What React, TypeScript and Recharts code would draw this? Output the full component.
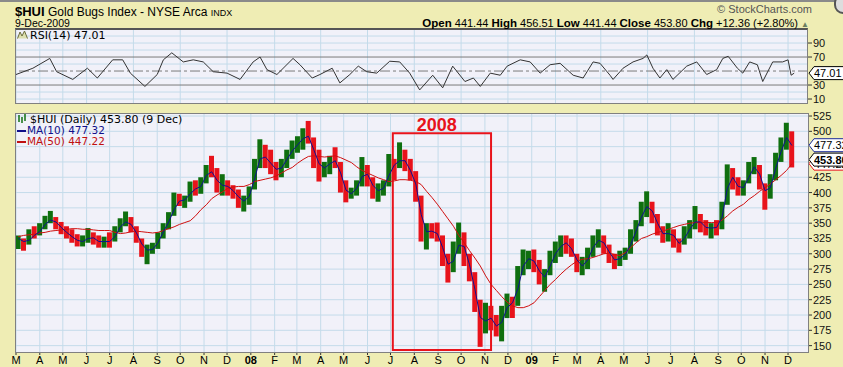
import React from 'react'
import {
  ComposedChart,
  LineChart,
  Bar,
  Line,
  Cell,
  XAxis,
  YAxis,
  CartesianGrid,
  ReferenceArea,
  ReferenceLine,
} from 'recharts'

// time axis: days since 1 Mar 2007, weekly bars sit at day 3 + 7*i
const START = Date.UTC(2007, 2, 1)
const DAY = 86400000
const X_DOMAIN: [number, number] = [0, 1032]

const monthLabels = [
  'M', 'A', 'M', 'J', 'J', 'A', 'S', 'O', 'N', 'D',
  '08', 'F', 'M', 'A', 'M', 'J', 'J', 'A', 'S', 'O', 'N', 'D',
  '09', 'F', 'M', 'A', 'M', 'J', 'J', 'A', 'S', 'O', 'N', 'D',
]
const monthDays = monthLabels.map((_, m) => Math.round((Date.UTC(2007, 2 + m, 1) - START) / DAY))

const weekHigh = [
  330, 325, 340, 345, 350, 362, 370, 360, 352, 345,
  340, 332, 330, 342, 335, 330, 328, 335, 345, 358,
  369, 360, 345, 325, 315, 318, 335, 350, 368, 400,
  398, 395, 418, 420, 425, 445, 460, 440, 430, 420,
  412, 405, 395, 410, 455, 487, 478, 470, 450, 455,
  470, 485, 492, 505, 517, 490, 470, 450, 460, 474,
  450, 420, 408, 420, 458, 445, 425, 415, 420, 463,
  455, 482, 470, 455, 435, 395, 350, 350, 351, 330,
  300, 320, 351, 335, 300, 270, 225, 220, 215, 200,
  215, 235, 230, 280, 307, 305, 307, 290, 275, 305,
  320, 330, 330, 325, 300, 295, 310, 330, 340, 330,
  315, 300, 305, 310, 340, 355, 385, 402, 385, 365,
  345, 350, 340, 325, 345, 355, 378, 365, 355, 350,
  355, 385, 446, 440, 425, 420, 450, 458, 445, 415,
  430, 465, 490, 514, 500,
]
const weekLow = [
  308, 305, 315, 325, 330, 340, 350, 340, 332, 325,
  318, 312, 312, 318, 315, 310, 310, 310, 320, 335,
  345, 335, 318, 295, 283, 300, 308, 325, 340, 362,
  378, 375, 385, 395, 398, 415, 425, 400, 395, 395,
  390, 375, 369, 380, 405, 440, 440, 430, 420, 425,
  440, 455, 465, 470, 480, 440, 418, 425, 430, 440,
  400, 384, 390, 395, 410, 410, 390, 385, 395, 410,
  420, 440, 435, 420, 385, 320, 307, 325, 320, 280,
  253, 270, 300, 280, 255, 205, 148, 170, 175, 165,
  157, 195, 195, 215, 265, 275, 270, 250, 238, 265,
  285, 295, 300, 295, 270, 265, 275, 295, 310, 300,
  285, 275, 280, 290, 300, 320, 345, 360, 350, 330,
  318, 320, 310, 302, 315, 325, 340, 335, 330, 325,
  330, 340, 380, 405, 395, 395, 415, 430, 405, 372,
  390, 420, 450, 470, 441,
]
const weekClose = [
  318, 315, 335, 330, 345, 355, 360, 345, 338, 330,
  325, 318, 320, 335, 320, 318, 322, 318, 340, 352,
  355, 340, 325, 305, 305, 310, 330, 345, 362, 390,
  385, 390, 410, 405, 418, 440, 430, 410, 415, 405,
  400, 385, 385, 405, 445, 470, 450, 445, 430, 450,
  460, 478, 480, 498, 490, 450, 440, 440, 455, 450,
  410, 395, 400, 415, 440, 420, 400, 405, 410, 450,
  440, 465, 440, 430, 395, 330, 340, 335, 330, 290,
  275, 300, 330, 295, 265, 215, 175, 205, 185, 175,
  200, 225, 215, 270, 290, 295, 280, 260, 265, 295,
  305, 320, 315, 300, 280, 280, 300, 320, 325, 310,
  295, 285, 298, 300, 330, 345, 375, 380, 360, 340,
  325, 340, 318, 315, 335, 345, 360, 345, 340, 345,
  340, 380, 435, 415, 405, 410, 440, 445, 415, 390,
  425, 455, 480, 500, 454,
]
const ma10 = [
  325, 320, 322, 330, 336, 348, 355, 352, 343, 335,
  328, 322, 320, 325, 326, 320, 320, 320, 328, 344,
  352, 348, 334, 316, 306, 307, 318, 336, 352, 372,
  386, 388, 398, 406, 410, 428, 434, 420, 412, 410,
  403, 393, 386, 394, 423, 455, 458, 448, 438, 440,
  454, 468, 478, 488, 492, 470, 447, 440, 447, 452,
  432, 404, 398, 407, 426, 430, 412, 403, 407, 428,
  445, 452, 452, 436, 414, 364, 336, 337, 333, 310,
  283, 288, 314, 312, 282, 242, 196, 190, 195, 182,
  188, 212, 220, 243, 280, 292, 288, 272, 262, 280,
  300, 312, 318, 308, 290, 280, 290, 310, 322, 318,
  303, 290, 292, 299, 315, 337, 360, 377, 370, 350,
  333, 333, 330, 317, 325, 340, 352, 352, 343, 342,
  343, 360, 407, 425, 410, 408, 425, 442, 430, 403,
  408, 440, 467, 490, 477,
]
const ma50 = [
  328, 330, 331, 332, 334, 335, 337, 338, 339, 340,
  341, 341, 340, 340, 339, 338, 338, 338, 335, 333,
  334, 336, 337, 336, 335, 334, 335, 338, 341, 344,
  348, 351, 354, 362, 372, 380, 390, 396, 401, 407,
  409, 410, 410, 413, 418, 420, 422, 424, 427, 432,
  437, 441, 448, 454, 459, 460, 459, 458, 459, 460,
  457, 453, 449, 442, 436, 432, 428, 424, 421, 418,
  419, 421, 421, 420, 418, 413, 402, 392, 381, 369,
  357, 345, 330, 318, 305, 293, 280, 264, 250, 240,
  230, 221, 215, 212, 212, 215, 220, 230, 240, 250,
  258, 267, 275, 282, 288, 291, 292, 294, 297, 300,
  301, 299, 297, 302, 310, 318, 325, 328, 332, 335,
  337, 340, 343, 346, 348, 350, 351, 351, 351, 351,
  351, 355, 362, 370, 376, 381, 389, 395, 402, 408,
  414, 421, 428, 436, 447,
]

const rsiDays = [
  0, 22, 44, 53, 74, 93, 106, 126, 139, 149,
  168, 184, 192, 203, 218, 231, 244, 257, 275, 292,
  309, 318, 327, 340, 361, 370, 386, 396, 412, 422,
  435, 446, 457, 470, 487, 500, 513, 526, 543, 556,
  569, 585, 596, 605, 618, 631, 640, 657, 670, 683,
  696, 709, 726, 739, 752, 761, 774, 778, 791, 804,
  817, 822, 830, 839, 848, 856, 874, 887, 900, 913,
  921, 928, 940, 947, 956, 966, 973, 986, 999, 1006,
  1010, 1014,
]
const rsiValues = [
  45, 54, 68, 49, 38, 54, 40, 66, 66, 47,
  28, 45, 66, 76, 63, 66, 63, 49, 47, 38,
  63, 70, 52, 45, 68, 59, 40, 45, 54, 33,
  45, 57, 49, 47, 64, 63, 47, 23, 44, 26,
  57, 35, 40, 28, 47, 44, 57, 66, 63, 47,
  59, 61, 44, 40, 63, 61, 44, 38, 54, 63,
  68, 73, 54, 40, 52, 38, 57, 63, 45, 52,
  68, 71, 54, 47, 63, 59, 35, 63, 63, 66,
  44, 47,
]

const lastClose = 453.8
const lastMa10 = 477.32
const lastMa50 = 447.22
const lastRsi = 47.01

const priceTicks = [150, 175, 200, 225, 250, 275, 300, 325, 350, 375, 400, 425, lastMa50, lastClose, lastMa10, 500, 525]
const priceGrid = [150, 175, 200, 225, 250, 275, 300, 325, 350, 375, 400, 425, 450, 475, 500, 525]
const rsiTicks = [10, 30, lastRsi, 70, 90]
const rsiGrid = [10, 20, 40, 60, 80, 90, 100]

const BG = '#EFEDB4'
const PLOT_BG = '#F1F1F9'
const GRID = '#C4DBEA'
const GREEN = '#0F6F0F'
const RED = '#E8131B'
const SANS = '"Liberation Sans", Arial, sans-serif'
const VERD = '"DejaVu Sans", Verdana, sans-serif'

const priceData = weekClose.map((c, i) => ({
  t: 3 + 7 * i,
  range: [weekLow[i], weekHigh[i]],
  ma10: ma10[i],
  ma50: ma50[i],
  up: i === 0 || c >= weekClose[i - 1],
}))
const rsiData = rsiDays.map((t, i) => ({ t, rsi: rsiValues[i] }))

function Tag({ x, y, text, color, bold }: any) {
  return (
    <g>
      <path
        d={`M${x + 1},${y} L${x + 6},${y - 6.5} L${x + 70},${y - 6.5} L${x + 70},${y + 6.5} L${x + 6},${y + 6.5} Z`}
        fill="#fff"
        stroke={color}
        strokeWidth={1}
      />
      <text x={x + 6} y={y + 4} fontSize={11} fontFamily={SANS} fontWeight={bold ? 'bold' : 'normal'} fill="#000">
        {text}
      </text>
    </g>
  )
}

function PriceTick({ x, y, payload }: any) {
  const v = payload.value
  if (v === lastMa50) return <Tag x={x} y={y} text={v.toFixed(2)} color={RED} />
  if (v === lastClose) return <Tag x={x} y={y} text={v.toFixed(2)} color="#000" bold />
  if (v === lastMa10) return <Tag x={x} y={y} text={v.toFixed(2)} color="#1A2A9A" />
  return (
    <g>
      <line x1={x} x2={x + 4} y1={y} y2={y} stroke="#333" />
      <text x={x + 5} y={y + 4} fontSize={11} fontFamily={SANS} fill="#111">{v}</text>
    </g>
  )
}

function RsiTick({ x, y, payload }: any) {
  const v = payload.value
  if (v === lastRsi) return <Tag x={x} y={y} text={v.toFixed(2)} color="#000" />
  return (
    <g>
      <line x1={x} x2={x + 4} y1={y} y2={y} stroke="#333" />
      <text x={x + 5} y={y + 4} fontSize={11} fontFamily={SANS} fill="#111">{v}</text>
    </g>
  )
}

function MonthTick({ x, y, payload }: any) {
  const label = monthLabels[monthDays.indexOf(payload.value)]
  const bold = label === '08' || label === '09'
  return (
    <g>
      <line x1={x} x2={x} y1={y} y2={y + 3} stroke="#333" />
      <text x={x} y={y + 12} textAnchor="middle" fontSize={11} fontFamily={SANS} fontWeight={bold ? 'bold' : 'normal'} fill="#000">
        {label}
      </text>
    </g>
  )
}

function BoxLabel({ viewBox }: any) {
  return (
    <text x={viewBox.x + 24} y={viewBox.y - 2} fontSize={18} fontWeight="bold" fontFamily={SANS} fill={RED}>
      2008
    </text>
  )
}

const abs = (s: React.CSSProperties): React.CSSProperties => ({ position: 'absolute', ...s })

export default function App() {
  return (
    <div style={abs({ left: 0, top: 0, width: 843, height: 367, background: BG, overflow: 'hidden', fontFamily: SANS })}>
      <div style={abs({ left: 0, top: 0, width: 843, height: 2, background: '#8A8A8A' })} />
      <div style={abs({ left: 834, top: -6, width: 20, height: 16, borderRadius: 9, border: '2px solid #555', background: '#ddd' })} />

      {/* plot backgrounds */}
      <div style={abs({ left: 16, top: 29, width: 792, height: 75, background: PLOT_BG })} />
      <div style={abs({ left: 16, top: 114, width: 792, height: 238, background: PLOT_BG })} />

      <div style={abs({ left: 0, top: 0 })}>
        <LineChart width={843} height={106} data={rsiData} margin={{ top: 30, right: 0, bottom: 2, left: 16 }}>
          <CartesianGrid stroke={GRID} horizontalValues={rsiGrid} verticalValues={monthDays} />
          <XAxis dataKey="t" type="number" domain={X_DOMAIN} hide allowDataOverflow />
          <YAxis
            orientation="right"
            width={35}
            type="number"
            domain={[2.9, 108.6]}
            ticks={rsiTicks}
            interval={0}
            tick={<RsiTick />}
            tickSize={0}
            tickMargin={0}
            axisLine={false}
            tickLine={false}
            allowDataOverflow
          />
          <ReferenceLine y={70} stroke="#7A7A7A" />
          <ReferenceLine y={30} stroke="#7A7A7A" />
          <ReferenceLine y={50} stroke="#7A7A7A" strokeDasharray="10 3 3 3" />
          <Line dataKey="rsi" type="linear" stroke="#333" strokeWidth={1} dot={false} isAnimationActive={false} />
        </LineChart>
      </div>

      <div style={abs({ left: 0, top: 0 })}>
        <ComposedChart width={843} height={367} data={priceData} margin={{ top: 114, right: 0, bottom: 0, left: 16 }}>
          <CartesianGrid stroke={GRID} horizontalValues={priceGrid} verticalValues={monthDays} />
          <XAxis
            dataKey="t"
            type="number"
            domain={X_DOMAIN}
            ticks={monthDays}
            interval={0}
            tick={<MonthTick />}
            tickSize={0}
            tickMargin={0}
            height={15}
            axisLine={false}
            tickLine={false}
            allowDataOverflow
          />
          <YAxis
            orientation="right"
            width={35}
            type="number"
            domain={[139.6, 528.3]}
            ticks={priceTicks}
            interval={0}
            tick={<PriceTick />}
            tickSize={0}
            tickMargin={0}
            axisLine={false}
            tickLine={false}
            allowDataOverflow
          />
          <Bar dataKey="range" barSize={5} isAnimationActive={false}>
            {priceData.map((d, i) => (
              <Cell key={i} fill={d.up ? GREEN : RED} />
            ))}
          </Bar>
          <Line dataKey="ma50" type="linear" stroke="#D01010" strokeWidth={1} dot={false} isAnimationActive={false} />
          <Line dataKey="ma10" type="linear" stroke="#101090" strokeWidth={1} dot={false} isAnimationActive={false} />
          <ReferenceArea
            x1={491}
            x2={619}
            y1={143}
            y2={497}
            fill="none"
            stroke={RED}
            strokeWidth={2}
            ifOverflow="visible"
            label={<BoxLabel />}
          />
        </ComposedChart>
      </div>

      {/* panel borders */}
      <div style={abs({ left: 15, top: 28, width: 793, height: 76, borderTop: '2px solid #555', borderLeft: '1px solid #808080', borderRight: '1px solid #808080', borderBottom: '1px solid #808080', boxSizing: 'border-box', pointerEvents: 'none' })} />
      <div style={abs({ left: 15, top: 113, width: 794, height: 240, border: '1px solid #808080', boxSizing: 'border-box', pointerEvents: 'none' })} />

      {/* header */}
      <div style={abs({ left: 15, top: 4, lineHeight: '13px', whiteSpace: 'nowrap', color: '#000' })}>
        <span style={{ fontSize: 13, fontWeight: 'bold' }}>$HUI</span>
        <span style={{ fontSize: 12 }}> Gold Bugs Index - NYSE Arca </span>
        <span style={{ fontSize: 9 }}>INDX</span>
      </div>
      <div style={abs({ left: 15, top: 18, fontSize: 10.5, lineHeight: '11px', color: '#000' })}>9-Dec-2009</div>
      <div style={abs({ right: 31, top: 4, fontSize: 11, lineHeight: '11px', color: '#555' })}>© StockCharts.com</div>
      <div style={abs({ right: 34, top: 17, fontSize: 11, lineHeight: '12px', whiteSpace: 'nowrap', color: '#000' })}>
        <b style={{ fontSize: 11.5 }}>Open</b> 441.44 <b style={{ fontSize: 11.5 }}>High</b> 456.51{' '}
        <b style={{ fontSize: 11.5 }}>Low</b> 441.44 <b style={{ fontSize: 11.5 }}>Close</b> 453.80{' '}
        <b style={{ fontSize: 11.5 }}>Chg</b> +12.36 (+2.80%) <span style={{ fontSize: 8, color: '#6C8060' }}>▲</span>
      </div>

      {/* RSI legend */}
      <div style={abs({ left: 17, top: 30, fontFamily: VERD, fontSize: 11, lineHeight: '11px', whiteSpace: 'nowrap', color: '#000' })}>
        <svg width={11} height={9} style={{ marginRight: 2 }}>
          <path d="M0.5,8.5 L3,2 L5,6 L7.5,1 L10.5,8.5" fill="#DDE0B0" stroke="#6B6B3A" strokeWidth={1} />
        </svg>
        RSI(14) 47.01
      </div>

      {/* price legend */}
      <div style={abs({ left: 17, top: 114, fontFamily: VERD, fontSize: 11, lineHeight: '11px', whiteSpace: 'nowrap', color: '#000' })}>
        <svg width={10} height={9} style={{ marginRight: 3 }}>
          <line x1={2} x2={2} y1={1} y2={8} stroke={GREEN} strokeWidth={1.5} />
          <line x1={5} x2={5} y1={3} y2={9} stroke={GREEN} strokeWidth={1.5} />
          <line x1={8} x2={8} y1={0} y2={7} stroke={GREEN} strokeWidth={1.5} />
        </svg>
        $HUI (Daily) 453.80 (9 Dec)
      </div>
      <div style={abs({ left: 17, top: 125, fontFamily: VERD, fontSize: 10.5, lineHeight: '11px', whiteSpace: 'nowrap', color: '#10108A' })}>
        <span style={{ display: 'inline-block', width: 9, height: 2, background: '#10108A', verticalAlign: 'middle', marginRight: 1 }} />
        MA(10) 477.32
      </div>
      <div style={abs({ left: 17, top: 136, fontFamily: VERD, fontSize: 10.5, lineHeight: '11px', whiteSpace: 'nowrap', color: '#C01010' })}>
        <span style={{ display: 'inline-block', width: 9, height: 2, background: '#C01010', verticalAlign: 'middle', marginRight: 1 }} />
        MA(50) 447.22
      </div>
    </div>
  )
}
